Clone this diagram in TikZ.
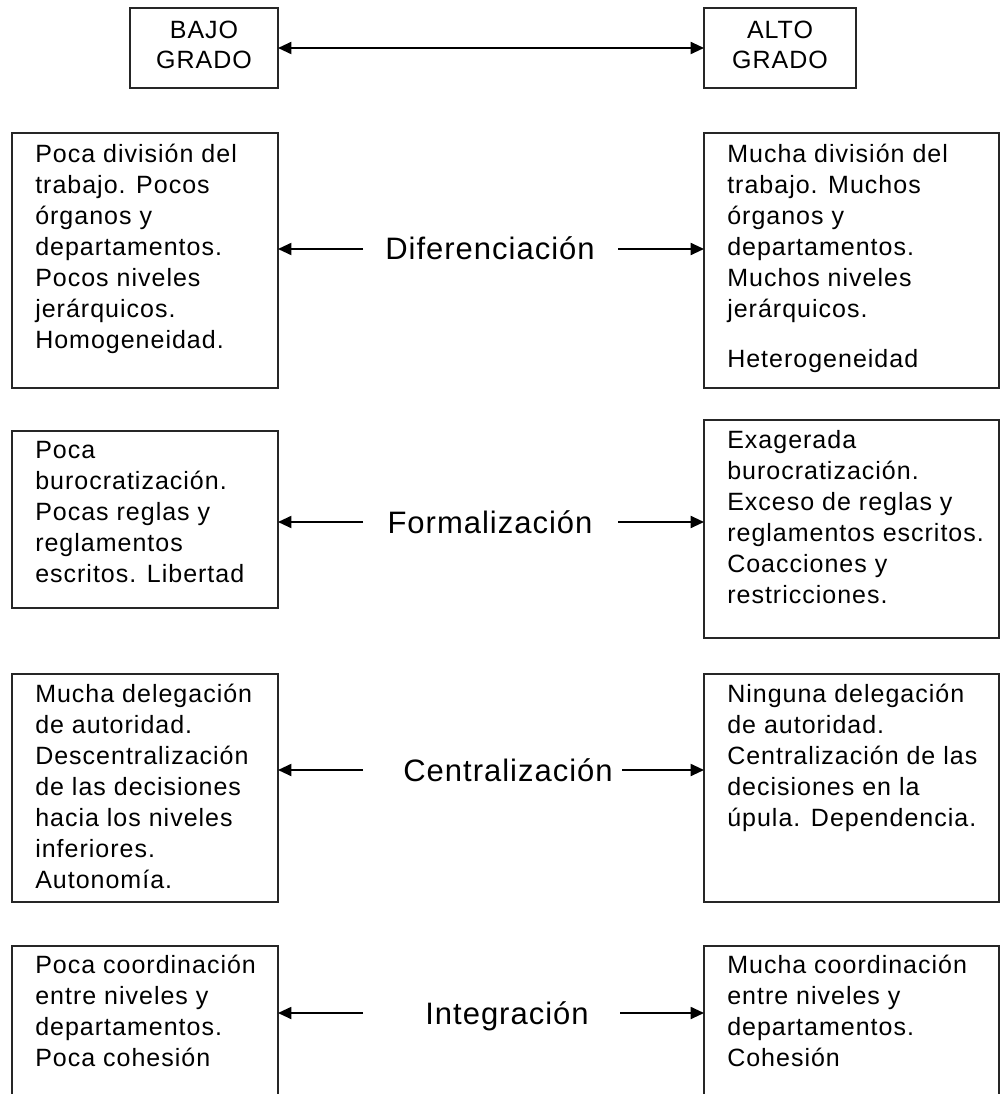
\documentclass[tikz,border=0pt]{standalone}
\usepackage{fontspec}
\setmainfont{Liberation Sans}
\usetikzlibrary{arrows.meta,positioning}
\newfontfamily\boxfont[LetterSpace=4]{Liberation Sans}
\newfontfamily\labelfont[LetterSpace=3.2]{Liberation Sans}

\tikzset{
  panel/.style={draw=black!85, line width=1.4pt, anchor=north west, inner sep=0pt, outer sep=0pt},
  boxtext/.style={anchor=north west, inner sep=0pt, align=left, font=\boxfont\fontsize{18.75}{23.25}\selectfont,
    execute at begin node={\rule{0pt}{15pt}}},
  toptext/.style={anchor=north, inner sep=0pt, align=center, font=\boxfont\fontsize{18.75}{22.5}\selectfont,
    execute at begin node={\rule{0pt}{15pt}}},
  dimlabel/.style={inner sep=0pt, text height=16.5pt, text depth=0pt, font=\labelfont\fontsize{23.25}{28}\selectfont},
  arr/.style={-{Triangle[length=10pt,width=9pt]}, line width=1.4pt},
}

\begin{document}
\begin{tikzpicture}[x=0.75pt, y=-0.75pt]
    \useasboundingbox (0,0) rectangle (1001,1094);
    \clip (0,0) rectangle (1001,1094);

    % grado
    \node[panel, minimum width=111pt, minimum height=60pt] (bajo) at (130,8) {};
    \node[panel, minimum width=114pt, minimum height=60pt] (alto) at (704,8) {};
    \node[toptext] (bajoT) at ([shift={(0,13)}]bajo.north) {BAJO\\GRADO};
    \node[toptext] (altoT) at ([shift={(0,13)}]alto.north) {ALTO\\GRADO};
    \draw[{Triangle[length=10pt,width=9pt]}-{Triangle[length=10pt,width=9pt]}, line width=1.4pt] (bajo.east) -- (alto.west);

    % diferenciacion
    \node[panel, minimum width=199.5pt, minimum height=191.25pt] (difL) at (12,133) {};
    \node[panel, minimum width=221.25pt, minimum height=191.25pt] (difR) at (704,133) {};
    \node[boxtext] (difLT) at ([shift={(23,11)}]difL.north west) {Poca división del\\trabajo. Pocos\\órganos y\\departamentos.\\Pocos niveles\\jerárquicos.\\Homogeneidad.};
    \node[boxtext] (difRT) at ([shift={(23,11)}]difR.north west) {Mucha división del\\trabajo. Muchos\\órganos y\\departamentos.\\Muchos niveles\\jerárquicos.\\[14.25pt]Heterogeneidad};
    \node[dimlabel] (dif) at (490,249) {Diferenciación};
    \coordinate (difA) at (363,249);
    \coordinate (difB) at (618,249);
    \draw[arr] (difA) -- (difA -| difL.east);
    \draw[arr] (difB) -- (difB -| difR.west);

    % formalizacion
    \node[panel, minimum width=199.5pt, minimum height=132.75pt] (forL) at (12,431) {};
    \node[panel, minimum width=221.25pt, minimum height=163.5pt] (forR) at (704,420) {};
    \node[boxtext] (forLT) at ([shift={(23,10)}]forL.north west) {Poca\\burocratización.\\Pocas reglas y\\reglamentos\\escritos. Libertad};
    \node[boxtext] (forRT) at ([shift={(23,10)}]forR.north west) {Exagerada\\burocratización.\\Exceso de reglas y\\reglamentos escritos.\\Coacciones y\\restricciones.};
    \node[dimlabel] (for) at (490,522) {Formalización};
    \coordinate (forA) at (363,522);
    \coordinate (forB) at (618,522);
    \draw[arr] (forA) -- (forA -| forL.east);
    \draw[arr] (forB) -- (forB -| forR.west);

    % centralizacion
    \node[panel, minimum width=199.5pt, minimum height=171pt] (cenL) at (12,674) {};
    \node[panel, minimum width=221.25pt, minimum height=171pt] (cenR) at (704,674) {};
    \node[boxtext] (cenLT) at ([shift={(23,10)}]cenL.north west) {Mucha delegación\\de autoridad.\\Descentralización\\de las decisiones\\hacia los niveles\\inferiores.\\Autonomía.};
    \node[boxtext] (cenRT) at ([shift={(23,10)}]cenR.north west) {Ninguna delegación\\de autoridad.\\Centralización de las\\decisiones en la\\úpula. Dependencia.};
    \node[dimlabel] (cen) at (508,770) {Centralización};
    \coordinate (cenA) at (363,770);
    \coordinate (cenB) at (622,770);
    \draw[arr] (cenA) -- (cenA -| cenL.east);
    \draw[arr] (cenB) -- (cenB -| cenR.west);

    % integracion
    \node[panel, minimum width=199.5pt, minimum height=135pt] (intL) at (12,946) {};
    \node[panel, minimum width=221.25pt, minimum height=135pt] (intR) at (704,946) {};
    \node[boxtext] (intLT) at ([shift={(23,9)}]intL.north west) {Poca coordinación\\entre niveles y\\departamentos.\\Poca cohesión};
    \node[boxtext] (intRT) at ([shift={(23,9)}]intR.north west) {Mucha coordinación\\entre niveles y\\departamentos.\\Cohesión};
    \node[dimlabel] (int) at (507,1013) {Integración};
    \coordinate (intA) at (363,1013);
    \coordinate (intB) at (620,1013);
    \draw[arr] (intA) -- (intA -| intL.east);
    \draw[arr] (intB) -- (intB -| intR.west);
\end{tikzpicture}
\end{document}
